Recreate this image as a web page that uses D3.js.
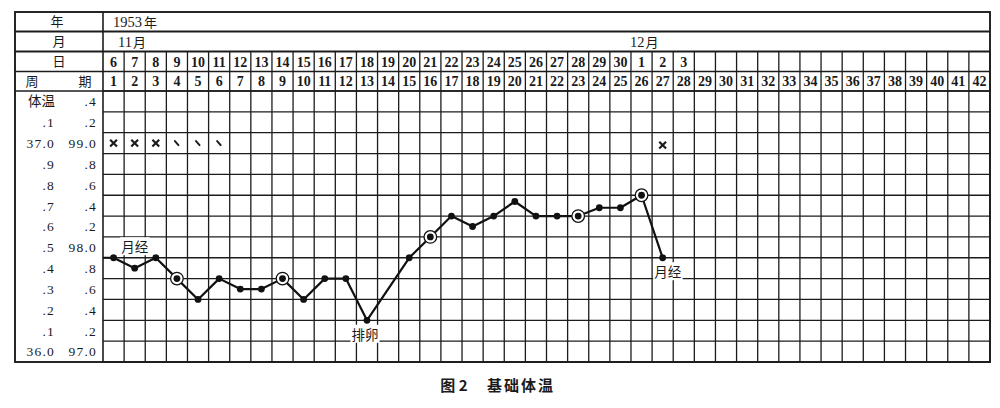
<!DOCTYPE html>
<html><head><meta charset="utf-8">
<script src="https://cdn.jsdelivr.net/npm/d3@7/dist/d3.min.js"></script>
<style>
html,body{margin:0;padding:0;background:#fff;}
svg{display:block;}
.num{font-family:"Liberation Serif","DejaVu Serif",serif;fill:#1a1a1a;}
.cjk{font-family:"Noto Sans CJK SC",sans-serif;fill:#1a1a1a;}
</style>
</head><body>
<script>
// ---- data ----
const yearLabel = "1953年";
const monthLabels = [{day: 1, text: "11月"}, {day: 26, text: "12月"}];
const dateLabels = [6,7,8,9,10,11,12,13,14,15,16,17,18,19,20,21,22,23,24,25,26,27,28,29,30,1,2,3];
const cycleDays = [1,2,3,4,5,6,7,8,9,10,11,12,13,14,15,16,17,18,19,20,21,22,23,24,25,26,27,28,29,30,31,32,33,34,35,36,37,38,39,40,41,42];
const celsiusLabels = ["36.0",".1",".2",".3",".4",".5",".6",".7",".8",".9","37.0",".1","体温"];
const fahrenheitLabels = ["97.0",".2",".4",".6",".8","98.0",".2",".4",".6",".8","99.0",".2",".4"];
const tempLevels = [36.0,36.1,36.2,36.3,36.4,36.5,36.6,36.7,36.8,36.9,37.0,37.1,37.2];
const prevDayTemp = 36.5;
const temps = [36.5,36.45,36.5,36.4,36.3,36.4,36.35,36.35,36.4,36.3,36.4,36.4,36.2,null,36.5,36.6,36.7,36.65,36.7,36.77,36.7,36.7,36.7,36.74,36.74,36.8,36.5];
const circledDays = [4,9,16,23,26];
const crossDays = [1,2,3,27];
const strokeDays = [4,5,6];
const markLevel = 37.05;
const notes = [{day: 2, temp: 36.55, text: "月经", dx: 0}, {day: 13, temp: 36.13, text: "排卵", dx: -2}, {day: 27, temp: 36.43, text: "月经", dx: 5}];
const caption = ["图 2", "基础体温"];

// ---- layout ----
const W = 1000, H = 408;
const L = 15, R = 990, T = 12, B = 362, split = 103;
const rowY = [12, 31.5, 51.5, 71.5, 91];
const ink = "#1c1c1c";

const x = d3.scaleLinear().domain([0.5, 42.5]).range([split, R]);
const y = d3.scaleLinear().domain([36.0, 37.3]).range([B, rowY[4]]);

const svg = d3.select("body").append("svg").attr("width", W).attr("height", H);

// grid in plot area
const g = svg.append("g").attr("stroke", ink).attr("stroke-width", 1.3).attr("fill", "none");
d3.range(0, 14).forEach(i => {
  const v = 36.0 + i * 0.1;
  g.append("line").attr("x1", split).attr("x2", R).attr("y1", y(v)).attr("y2", y(v));
});
cycleDays.forEach(d => {
  g.append("line").attr("x1", x(d + 0.5)).attr("x2", x(d + 0.5)).attr("y1", rowY[2]).attr("y2", B);
});
// header row lines
rowY.slice(1).forEach((yy, i) => {
  g.append("line").attr("x1", L).attr("x2", R).attr("y1", yy).attr("y2", yy).attr("stroke-width", i < 2 ? 1.8 : 1.5);
});
g.append("line").attr("x1", split).attr("x2", split).attr("y1", T).attr("y2", B).attr("stroke-width", 1.6);
// outer frame
svg.append("rect").attr("x", L).attr("y", T).attr("width", R - L).attr("height", B - T)
  .attr("fill", "none").attr("stroke", ink).attr("stroke-width", 1.9);

// header labels
const midRow = i => (rowY[i] + rowY[i + 1]) / 2;
const labMid = (L + split) / 2;
svg.append("text").attr("class", "cjk").attr("x", labMid - 2).attr("y", midRow(0)).attr("dy", "0.36em").attr("text-anchor", "middle").attr("font-size", 13).text("年");
svg.append("text").attr("class", "cjk").attr("x", labMid).attr("y", midRow(1)).attr("dy", "0.36em").attr("text-anchor", "middle").attr("font-size", 13).text("月");
svg.append("text").attr("class", "cjk").attr("x", labMid).attr("y", midRow(2)).attr("dy", "0.36em").attr("text-anchor", "middle").attr("font-size", 13).text("日");
svg.append("text").attr("class", "cjk").attr("x", 32).attr("y", midRow(3)).attr("dy", "0.36em").attr("text-anchor", "middle").attr("font-size", 13).text("周");
svg.append("text").attr("class", "cjk").attr("x", 85).attr("y", midRow(3)).attr("dy", "0.36em").attr("text-anchor", "middle").attr("font-size", 13).text("期");

const yt = svg.append("text").attr("x", x(0.5) + 10).attr("y", midRow(0)).attr("dy", "0.36em").attr("font-size", 14.5);
yt.append("tspan").attr("class", "num").text(yearLabel.slice(0, 4));
yt.append("tspan").attr("class", "cjk").attr("font-size", 13).attr("dx", 2).text(yearLabel.slice(4));

monthLabels.forEach(m => {
  const t = svg.append("text").attr("x", x(m.day - 0.5) + (m.day === 1 ? 15 : -1)).attr("y", midRow(1)).attr("dy", "0.36em").attr("font-size", 14.5);
  t.append("tspan").attr("class", "num").text(m.text.replace("月", ""));
  t.append("tspan").attr("class", "cjk").attr("font-size", 13).attr("dx", 1).text("月");
});

svg.selectAll("text.date").data(dateLabels).join("text")
  .attr("class", "num date").attr("x", (d, i) => x(i + 1)).attr("y", midRow(2)).attr("dy", "0.36em")
  .attr("text-anchor", "middle").attr("font-size", 14).attr("font-weight", 600).text(d => d);
svg.selectAll("text.cyc").data(cycleDays).join("text")
  .attr("class", "num cyc").attr("x", d => x(d)).attr("y", midRow(3)).attr("dy", "0.36em")
  .attr("text-anchor", "middle").attr("font-size", 14).attr("font-weight", 600).text(d => d);

// temperature labels
tempLevels.forEach((v, i) => {
  const c = celsiusLabels[i];
  svg.append("text").attr("class", c === "体温" ? "cjk" : "num")
    .attr("x", 55).attr("y", y(v + 0.05)).attr("dy", "0.36em").attr("text-anchor", "end")
    .attr("font-size", 13.5).attr("letter-spacing", c === "体温" ? 0 : 1.2).text(c);
  svg.append("text").attr("class", "num")
    .attr("x", 97).attr("y", y(v + 0.05)).attr("dy", "0.36em").attr("text-anchor", "end")
    .attr("font-size", 13.5).attr("letter-spacing", 1.2).text(fahrenheitLabels[i]);
});

// marks at 37.0 row
crossDays.forEach(d => {
  const cx = x(d), cy = y(markLevel) + (d === 27 ? 2 : 0), s = 3.4;
  svg.append("path").attr("d", `M${cx - s},${cy - s}L${cx + s},${cy + s}M${cx + s},${cy - s}L${cx - s},${cy + s}`)
    .attr("stroke", ink).attr("stroke-width", 2.2).attr("fill", "none");
});
strokeDays.forEach(d => {
  const cx = x(d), cy = y(markLevel);
  svg.append("path").attr("d", `M${cx - 2},${cy - 2}L${cx + 1.5},${cy + 2}`)
    .attr("stroke", ink).attr("stroke-width", 2).attr("stroke-linecap", "round").attr("fill", "none");
});

// annotations with white backing
notes.forEach(n => {
  const t = svg.append("text").attr("class", "cjk").attr("x", x(n.day) + n.dx).attr("y", y(n.temp))
    .attr("dy", "0.36em").attr("text-anchor", "middle").attr("font-size", 13.5).text(n.text);
  const bb = t.node().getBBox();
  svg.insert("rect", () => t.node()).attr("x", bb.x - 1).attr("y", bb.y + 1).attr("width", bb.width + 2).attr("height", bb.height - 2).attr("fill", "#fff");
});

// temperature line
svg.append("clipPath").attr("id", "plotclip").append("rect").attr("x", split).attr("y", rowY[4]).attr("width", R - split).attr("height", B - rowY[4]);
const pts = [{day: 0, t: prevDayTemp}].concat(temps.map((t, i) => ({day: i + 1, t}))).filter(p => p.t !== null);
const line = d3.line().x(p => x(p.day)).y(p => y(p.t));
svg.append("path").datum(pts).attr("d", line).attr("clip-path", "url(#plotclip)")
  .attr("fill", "none").attr("stroke", "#111").attr("stroke-width", 2.2).attr("stroke-linejoin", "round");
const real = pts.filter(p => p.day >= 1);
svg.selectAll("circle.ring").data(real.filter(p => circledDays.includes(p.day))).join("circle")
  .attr("class", "ring").attr("cx", p => x(p.day)).attr("cy", p => y(p.t)).attr("r", 6.3)
  .attr("fill", "#fff").attr("stroke", "#111").attr("stroke-width", 1.3);
svg.selectAll("circle.dot").data(real).join("circle")
  .attr("class", "dot").attr("cx", p => x(p.day)).attr("cy", p => y(p.t)).attr("r", 3.4).attr("fill", "#111");

// caption
svg.append("text").attr("class", "cjk").attr("x", 454).attr("y", 386).attr("dy", "0.36em")
  .attr("text-anchor", "middle").attr("font-size", 15).attr("font-weight", 700).text(caption[0]);
svg.append("text").attr("class", "cjk").attr("x", 521).attr("y", 386).attr("dy", "0.36em")
  .attr("text-anchor", "middle").attr("font-size", 15).attr("font-weight", 700).attr("letter-spacing", 2).text(caption[1]);
</script>
</body></html>
